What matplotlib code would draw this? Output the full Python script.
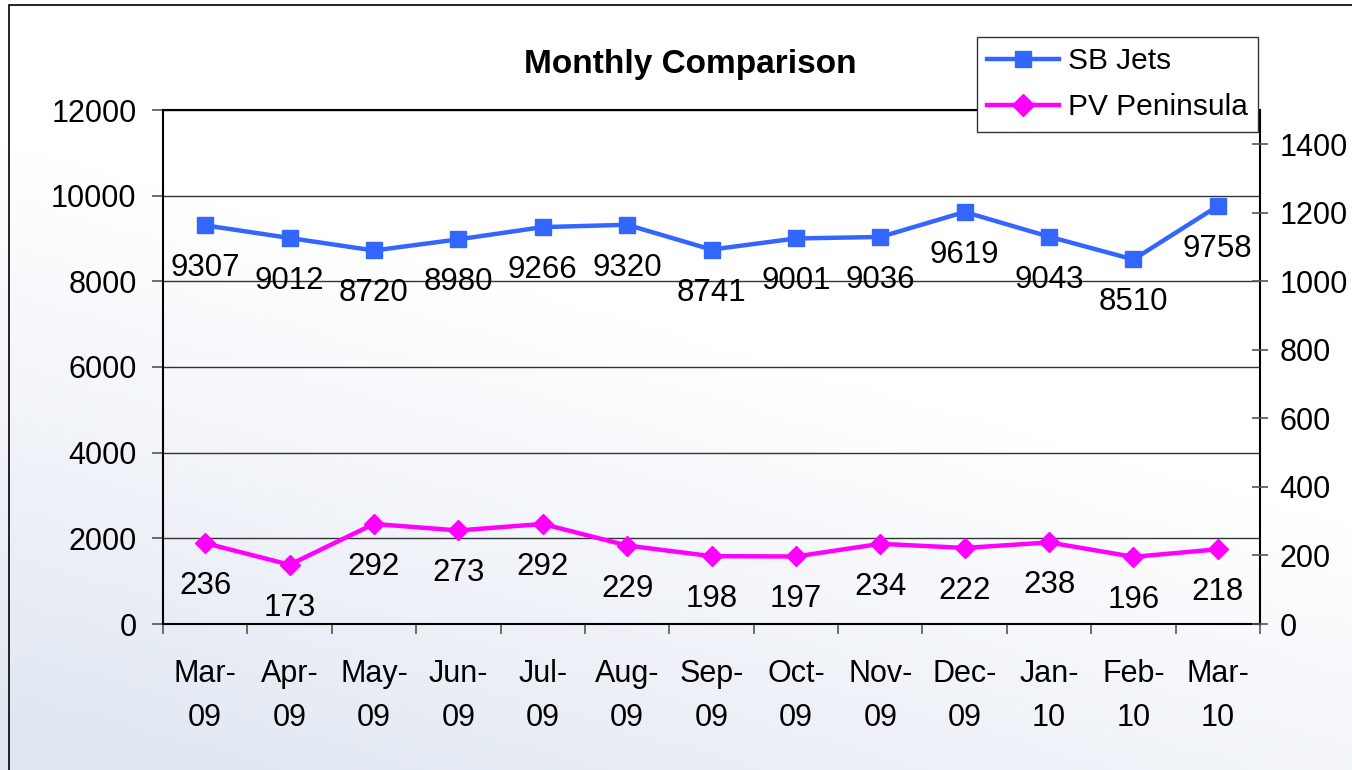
import numpy as np
import matplotlib
matplotlib.use("Agg")
import matplotlib.pyplot as plt
from matplotlib.patches import Rectangle

plt.rcParams['font.family'] = ['Liberation Sans', 'DejaVu Sans']

# data
months = ["Mar-\n09", "Apr-\n09", "May-\n09", "Jun-\n09", "Jul-\n09", "Aug-\n09", "Sep-\n09",
          "Oct-\n09", "Nov-\n09", "Dec-\n09", "Jan-\n10", "Feb-\n10", "Mar-\n10"]
sb_jets = [9307, 9012, 8720, 8980, 9266, 9320, 8741, 9001, 9036, 9619, 9043, 8510, 9758]
pv_peninsula = [236, 173, 292, 273, 292, 229, 198, 197, 234, 222, 238, 196, 218]

left_ticks = list(range(0, 12001, 2000))
right_ticks = list(range(0, 1401, 200))

W, H = 1352, 770
fig = plt.figure(figsize=(W / 100, H / 100), dpi=100)

# gradient background (white top-right, pale blue bottom-left)
bg = fig.add_axes([0, 0, 1, 1], zorder=-10)
xx, yy = np.meshgrid(np.linspace(0, 1, 200), np.linspace(0, 1, 120))
t = np.clip((1 - xx) * 0.55 + (1 - yy) * 1.1 - 0.75, 0, 1)
c0 = np.array([1.0, 1.0, 1.0])
c1 = np.array([0.86, 0.89, 0.94])
img = c0[None, None, :] * (1 - t[..., None]) + c1[None, None, :] * t[..., None]
bg.imshow(img, aspect="auto", extent=[0, 1, 0, 1], origin="lower")
bg.set_axis_off()

# outer frame line
fig.patches.append(Rectangle((9 / W, -0.1), 1.2, 1 - 5 / H + 0.1, transform=fig.transFigure,
                             fill=False, edgecolor="black", linewidth=1.2, zorder=-5))

ax = fig.add_axes([163 / W, 1 - 624 / H, (1260 - 163) / W, (624 - 110) / H])
ax.set_facecolor("none")
x = np.arange(len(months))

ax.set_ylim(0, 12000)
ax.set_yticks(left_ticks)
ax.set_xlim(-0.5, len(months) - 0.5)
ax.grid(axis="y", color="#333333", linewidth=1)
ax.set_axisbelow(True)

ax.set_xticks(x)
ax.set_xticklabels(months, fontsize=22, linespacing=1.6)
ax.set_xticks(np.arange(-0.5, len(months)), minor=True)
ax.tick_params(axis="x", which="major", length=0, pad=25)
ax.tick_params(axis="x", which="minor", length=7, width=1.2, color="#555555", direction="out")
ax.tick_params(axis="y", length=8, width=1.2, color="#555555", labelsize=22, pad=11)

for s in ["left", "top", "right", "bottom"]:
    ax.spines[s].set_linewidth(1.5)
    ax.spines[s].set_color("black")

ax2 = ax.twinx()
ax2.set_ylim(0, 1500)
ax2.set_yticks(right_ticks)
ax2.tick_params(axis="y", length=12, width=1.2, color="#555555", direction="inout",
                labelsize=22, pad=8)
for s in ["left", "top", "right", "bottom"]:
    ax2.spines[s].set_visible(False)

l1, = ax.plot(x, sb_jets, color="#3366FF", linewidth=3.2, marker="s", markersize=11,
              label="SB Jets", zorder=3)
l2, = ax2.plot(x, pv_peninsula, color="#FF00FF", linewidth=3.2, marker="D", markersize=10.5,
               label="PV Peninsula", zorder=3)

for xi, v in zip(x, sb_jets):
    ax.annotate(str(v), (xi, v), xytext=(0, -43), textcoords="offset pixels",
                ha="center", va="center", fontsize=22.5)
for xi, v in zip(x, pv_peninsula):
    ax2.annotate(str(v), (xi, v), xytext=(0, -43), textcoords="offset pixels",
                 ha="center", va="center", fontsize=22.5)

fig.text(690 / W, 1 - 65 / H, "Monthly Comparison", fontsize=24, fontweight="bold",
         ha="center", va="center")

leg = fig.legend([l1, l2], ["SB Jets", "PV Peninsula"], loc="upper right",
                 bbox_to_anchor=(1258 / W, 1 - 37 / H), fontsize=21.5, frameon=True,
                 fancybox=False, framealpha=1, edgecolor="#333333", borderpad=0.35,
                 handlelength=2.4, handletextpad=0.3, labelspacing=0.6, borderaxespad=0,
                 markerscale=1.1)
leg.get_frame().set_linewidth(1)
leg.set_zorder(10)

fig.savefig("out.png", dpi=100)
